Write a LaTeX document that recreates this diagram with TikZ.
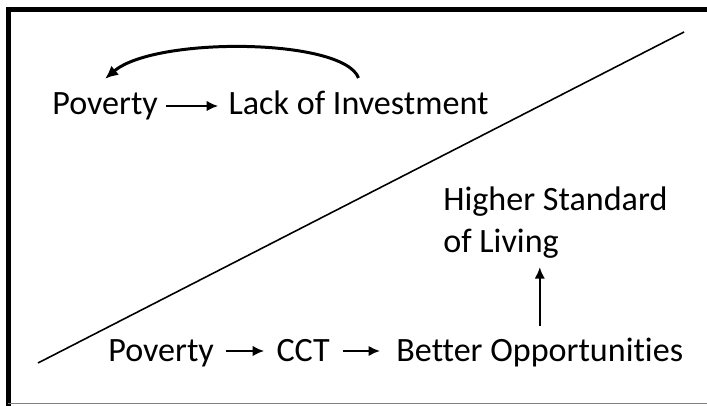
\documentclass[tikz,border=0pt]{standalone}
\usepackage{fontspec}
\setmainfont{Carlito}[Ligatures={NoCommon}]
\usetikzlibrary{arrows.meta,positioning}

\begin{document}
\begin{tikzpicture}[
  term/.style={inner sep=0pt, font=\fontsize{19.4}{24.4}\selectfont},
  flow/.style={-{Latex[length=2.3mm,width=2.1mm]}, line width=1.4pt},
  loopback/.style={-{Latex[length=2.6mm,width=2.4mm]}, line width=1.7pt},
  divide/.style={line width=0.9pt}]

\useasboundingbox (0,0) rectangle (14.14,8.12);

% frame: heavy on the left and top, hairline at the bottom
\draw[line width=2.85pt] (0.17,0) -- (0.17,7.93) -- (14.14,7.93);
\draw[gray, line width=0.6pt] (0.17,0.05) -- (14.14,0.05);

% diagonal split
\draw[divide] (0.76,0.86) -- (13.68,7.48);

% upper half: the poverty trap
\node[term, anchor=base west] (povA) at (1.04,5.82) {Poverty};
\node[term, base right=1.4cm of povA] (lack) {Lack of Investment};
\draw[flow, shorten <=0.16cm, shorten >=0.2cm] ([yshift=0.18cm]povA.base east) -- ([yshift=0.18cm]lack.base west);
\draw[loopback] ([yshift=0.26cm]lack.north) .. controls +(-0.3,0.8) and +(1.0,0.85) .. ([yshift=0.28cm]povA.north);

% lower half: the way out
\node[term, anchor=base west] (povB) at (2.16,0.88) {Poverty};
\node[term, base right=1.24cm of povB] (cct) {CCT};
\node[term, base right=1.32cm of cct] (better) {Better Opportunities};
\node[term, anchor=north west, align=left] (living) at (8.86,4.4) {Higher Standard\\of Living};
\draw[flow, shorten <=0.24cm, shorten >=0.24cm] ([yshift=0.22cm]povB.base east) -- ([yshift=0.22cm]cct.base west);
\draw[flow, shorten <=0.26cm, shorten >=0.32cm] ([yshift=0.22cm]cct.base east) -- ([yshift=0.22cm]better.base west);
\draw[flow, shorten <=0.24cm, shorten >=0.16cm] (better.north) -- (better.north |- living.south);

\end{tikzpicture}
\end{document}
